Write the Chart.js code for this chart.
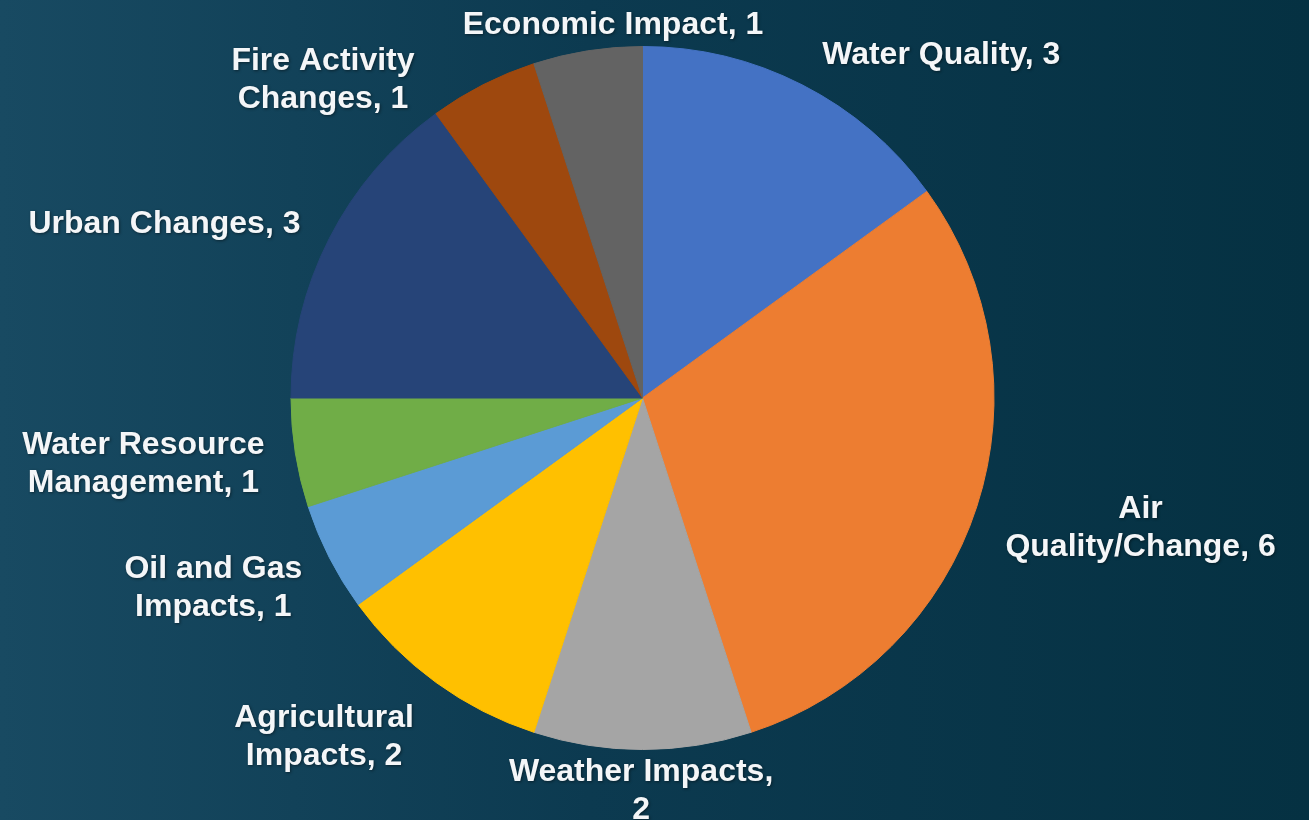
<!DOCTYPE html>
<html>
<head>
<meta charset="utf-8">
<title>Research topics</title>
<script src="https://cdn.jsdelivr.net/npm/chart.js@4.4.1/dist/chart.umd.min.js"></script>
<style>
  html, body { margin: 0; padding: 0; width: 1309px; height: 820px; overflow: hidden; background: #0b3a50; }
  #wrap { position: relative; width: 1309px; height: 820px; }
  canvas { display: block; }
</style>
</head>
<body>
<div id="wrap"><canvas id="pie" width="1309" height="820"></canvas></div>
<script>
// Topic categories and number of items in each
const categories = [
  'Water Quality',
  'Air Quality/Change',
  'Weather Impacts',
  'Agricultural Impacts',
  'Oil and Gas Impacts',
  'Water Resource Management',
  'Urban Changes',
  'Fire Activity Changes',
  'Economic Impact'
];
const counts = [3, 6, 2, 2, 1, 1, 3, 1, 1];
const sliceColors = [
  '#4472C4', '#ED7D31', '#A5A5A5', '#FFC000', '#5B9BD5',
  '#70AD47', '#264478', '#9E480E', '#636363'
];

// Where each data label sits, relative to the pie centre in units of its radius,
// and the width at which its text wraps
const labelSpots = [
  { dx: 0.850, dy: -0.975, wrap: 400 },
  { dx: 1.417, dy: 0.370, wrap: 285 },
  { dx: -0.004, dy: 1.118, wrap: 280 },
  { dx: -0.906, dy: 0.966, wrap: 220 },
  { dx: -1.221, dy: 0.540, wrap: 220 },
  { dx: -1.420, dy: 0.188, wrap: 270 },
  { dx: -1.360, dy: -0.495, wrap: 400 },
  { dx: -0.909, dy: -0.905, wrap: 220 },
  { dx: -0.084, dy: -1.062, wrap: 400 }
];

const LABEL_FONT = 'bold 32px "Liberation Sans", Arial, sans-serif';
const LINE_H = 38;

function wrapText(ctx, text, maxW) {
  const words = text.split(' ');
  const lines = [];
  let cur = '';
  for (const w of words) {
    const trial = cur ? cur + ' ' + w : w;
    if (cur && ctx.measureText(trial).width > maxW) {
      lines.push(cur);
      cur = w;
    } else {
      cur = trial;
    }
  }
  if (cur) lines.push(cur);
  return lines;
}

// Dark teal backdrop, lighter on the left
const backdrop = {
  id: 'backdrop',
  beforeDraw(chart) {
    const { ctx, width, height } = chart;
    const g = ctx.createLinearGradient(0, 0, width, 0);
    g.addColorStop(0, '#184a62');
    g.addColorStop(0.45, '#0c3a50');
    g.addColorStop(1, '#053142');
    ctx.save();
    ctx.fillStyle = g;
    ctx.fillRect(0, 0, width, height);
    ctx.restore();
  }
};

// "Category, value" labels around the pie
const sliceLabels = {
  id: 'sliceLabels',
  afterDatasetsDraw(chart) {
    const { ctx } = chart;
    const meta = chart.getDatasetMeta(0);
    const arc = meta.data[0];
    const cx = arc.x, cy = arc.y, r = arc.outerRadius;
    const values = chart.data.datasets[0].data;
    ctx.save();
    ctx.font = LABEL_FONT;
    ctx.fillStyle = '#f4f6f8';
    ctx.textAlign = 'center';
    ctx.textBaseline = 'middle';
    ctx.shadowColor = 'rgba(0,0,0,0.45)';
    ctx.shadowBlur = 3;
    ctx.shadowOffsetX = 1;
    ctx.shadowOffsetY = 1;
    chart.data.labels.forEach((name, i) => {
      const spot = labelSpots[i];
      const lines = wrapText(ctx, name + ', ' + values[i], spot.wrap);
      const x = cx + spot.dx * r;
      const y0 = cy + spot.dy * r - (lines.length - 1) * LINE_H / 2;
      lines.forEach((ln, k) => ctx.fillText(ln, x, y0 + k * LINE_H));
    });
    ctx.restore();
  }
};

new Chart(document.getElementById('pie'), {
  type: 'pie',
  data: {
    labels: categories,
    datasets: [{
      data: counts,
      backgroundColor: sliceColors,
      // same-colour hairline hides the seams between slices
      borderColor: sliceColors,
      borderWidth: 1,
      hoverOffset: 0
    }]
  },
  options: {
    responsive: false,
    animation: false,
    layout: { padding: { top: 46, bottom: 70, left: 0, right: 24 } },
    plugins: {
      legend: { display: false },
      tooltip: { enabled: false },
      title: { display: false }
    }
  },
  plugins: [backdrop, sliceLabels]
});
</script>
</body>
</html>
